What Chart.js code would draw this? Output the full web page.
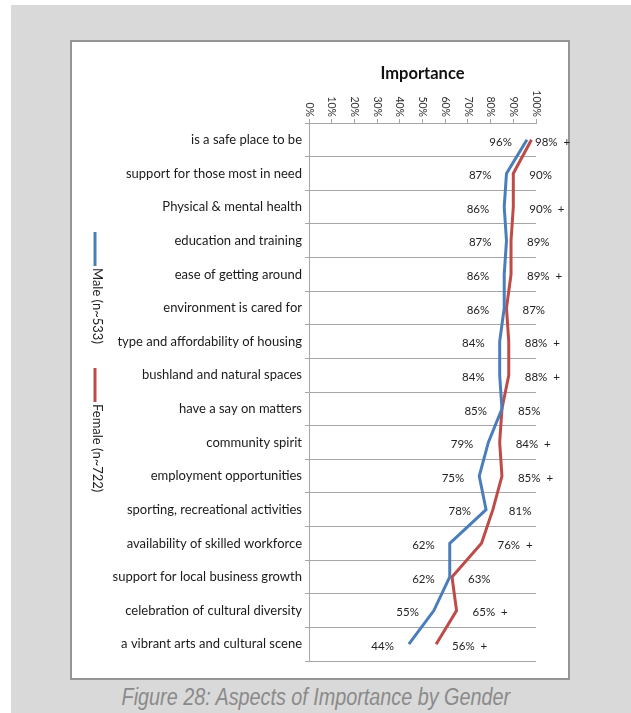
<!DOCTYPE html>
<html>
<head>
<meta charset="utf-8">
<script src="https://cdn.jsdelivr.net/npm/chart.js@4"></script>
<style>
    html, body { margin:0; padding:0; background:#ffffff; }
    body { width:631px; height:713px; position:relative; overflow:hidden; }
    #backdrop { position:absolute; left:11px; top:5px; right:0; bottom:0; background:#d9d9d9; }
    #panel { position:absolute; left:70px; top:40px; width:496px; height:636px;
             background:#ffffff; border:2px solid #959595; }
    #caption { position:absolute; left:0; width:631px; top:684px; text-align:center; }
    #caption span { display:inline-block; transform:scaleX(0.86);
                    font-family:"Liberation Sans", sans-serif;
                    font-style:italic; font-size:23px; color:#8a8a8a; }
    #chart { position:absolute; left:0; top:0; }
</style>
</head>
<body>
<div id="backdrop"></div>
<div id="panel"></div>
<div id="caption"><span>Figure 28: Aspects of Importance by Gender</span></div>
<canvas id="chart" width="631" height="713"></canvas>

<script>
// aspects, top to bottom
const categories = [
    "is a safe place to be",
    "support for those most in need",
    "Physical & mental health",
    "education and training",
    "ease of getting around",
    "environment is cared for",
    "type and affordability of housing",
    "bushland and natural spaces",
    "have a say on matters",
    "community spirit",
    "employment opportunities",
    "sporting, recreational activities",
    "availability of skilled workforce",
    "support for local business growth",
    "celebration of cultural diversity",
    "a vibrant arts and cultural scene"
];

const maleValues = [96, 87, 86, 87, 86, 86, 84, 84, 85, 79, 75, 78, 62, 62, 55, 44];
const femaleValues = [98, 90, 90, 89, 89, 87, 88, 88, 85, 84, 85, 81, 76, 63, 65, 56];

// "+" marks the female results flagged as significantly higher
const femaleFlags = ["+", "", "+", "", "+", "", "+", "+", "", "+", "+", "", "+", "", "+", "+"];

const xTickValues = [0, 10, 20, 30, 40, 50, 60, 70, 80, 90, 100];
const xTickLabels = ["0%", "10%", "20%", "30%", "40%", "50%", "60%", "70%", "80%", "90%", "100%"];

const seriesNames = ["Male (n~533)", "Female (n~722)"];

const FONT = "Lato, 'Liberation Sans', sans-serif";
const GRID = "#a6a6a6";

// top axis labels run top-to-bottom, so they are drawn here instead of by the scale
const rotatedTicks = {
    id: "rotatedTicks",
    afterDraw(chart){
        const ctx = chart.ctx;
        const xs = chart.scales.x;
        ctx.save();
        ctx.font = "10.5px " + FONT;
        ctx.fillStyle = "#333333";
        ctx.textAlign = "right";
        ctx.textBaseline = "middle";
        xTickValues.forEach((v, i) => {
            const px = xs.getPixelForValue(v);
            ctx.save();
            ctx.translate(px, xs.bottom - 6);
            ctx.rotate(Math.PI / 2);
            ctx.fillText(xTickLabels[i], 0, 0);
            ctx.restore();
        });
        ctx.restore();
    }
};

// value labels: male to the left of its line, female to the right
const valueLabels = {
    id: "valueLabels",
    afterDatasetsDraw(chart){
        const ctx = chart.ctx;
        const area = chart.chartArea;
        ctx.save();
        ctx.font = "11.5px " + FONT;
        ctx.fillStyle = "#222222";
        ctx.textBaseline = "middle";

        chart.getDatasetMeta(0).data.forEach((pt, i) => {
            ctx.textAlign = "right";
            ctx.fillText(maleValues[i] + "%", pt.x - 15, pt.y + 2);
        });

        chart.getDatasetMeta(1).data.forEach((pt, i) => {
            const flag = femaleFlags[i] ? "  " + femaleFlags[i] : "";
            ctx.textAlign = "left";
            ctx.fillText(femaleValues[i] + "%" + flag, Math.min(pt.x + 16, area.right - 1), pt.y + 2);
        });
        ctx.restore();
    }
};

// vertical legend down the left side
const sideLegend = {
    id: "sideLegend",
    afterDraw(chart, args, opts){
        const ctx = chart.ctx;
        ctx.save();
        ctx.font = "13px " + FONT;
        ctx.fillStyle = "#222222";
        ctx.textAlign = "left";
        ctx.textBaseline = "middle";
        chart.data.datasets.forEach((ds, i) => {
            const top = opts.tops[i];
            ctx.strokeStyle = ds.borderColor;
            ctx.lineWidth = 3;
            ctx.beginPath();
            ctx.moveTo(opts.x, top);
            ctx.lineTo(opts.x, top + 34);
            ctx.stroke();

            ctx.save();
            ctx.translate(opts.x + 2, top + 36);
            ctx.rotate(Math.PI / 2);
            ctx.fillText(ds.label, 0, 0);
            ctx.restore();
        });
        ctx.restore();
    }
};

const ctx = document.getElementById("chart").getContext("2d");

new Chart(ctx, {
    type: "line",
    data: {
        labels: categories,
        datasets: [
            {
                label: seriesNames[0],
                data: maleValues,
                borderColor: "#4a7ebb",
                borderWidth: 3,
                pointRadius: 0,
                tension: 0
            },
            {
                label: seriesNames[1],
                data: femaleValues,
                borderColor: "#be4b48",
                borderWidth: 3,
                pointRadius: 0,
                tension: 0
            }
        ]
    },
    options: {
        indexAxis: "y",
        responsive: false,
        animation: false,
        devicePixelRatio: 1,
        layout: {
            padding: { left: 0, top: 0, right: 95, bottom: 52 }
        },
        plugins: {
            legend: { display: false },
            tooltip: { enabled: false },
            sideLegend: { x: 95, tops: [232, 368] }
        },
        scales: {
            x: {
                type: "linear",
                position: "top",
                min: 0,
                max: 100,
                ticks: {
                    stepSize: 10,
                    color: "rgba(0,0,0,0)",
                    font: { size: 10, family: FONT },
                    maxRotation: 90,
                    minRotation: 90
                },
                grid: {
                    drawOnChartArea: false,
                    color: GRID,
                    tickLength: 4
                },
                border: { color: GRID },
                title: {
                    display: true,
                    text: "Importance",
                    color: "#111111",
                    font: { size: 16.5, weight: "bold", family: FONT },
                    padding: { top: 64, bottom: 0 }
                },
                afterFit(scale){
                    scale.height = 123;
                }
            },
            y: {
                type: "category",
                offset: true,
                ticks: {
                    color: "#1a1a1a",
                    padding: 3,
                    font: { size: 13, family: FONT }
                },
                grid: {
                    offset: true,
                    color: GRID,
                    tickLength: 4
                },
                border: { color: GRID },
                afterFit(scale){
                    scale.width = 309;
                }
            }
        }
    },
    plugins: [rotatedTicks, valueLabels, sideLegend]
});
</script>
</body>
</html>
